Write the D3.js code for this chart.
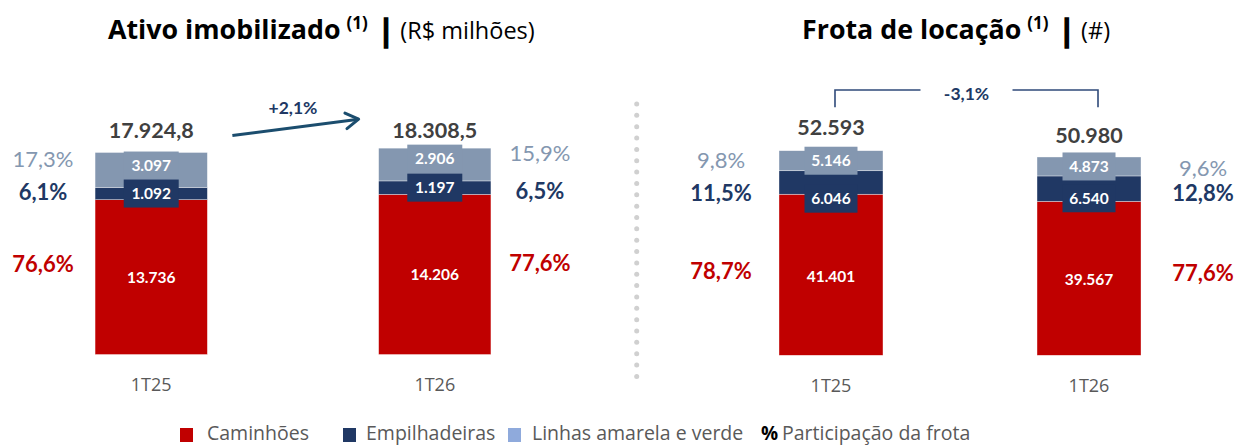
<!DOCTYPE html>
<html>
<head>
<meta charset="utf-8">
<script src="https://cdn.jsdelivr.net/npm/d3@7"></script>
<style>
  body { margin: 0; background: #fff; }
  svg { display: block; font-family: Lato, 'Open Sans', sans-serif; }
</style>
</head>
<body>
<div id="chart"></div>
<script>
const categories = ['1T25', '1T26']
const seriesNames = ['Caminhões', 'Empilhadeiras', 'Linhas amarela e verde']

// Ativo imobilizado (R$ milhões)
const assetTrucks = [13736, 14206]
const assetForklifts = [1092, 1197]
const assetLines = [3097, 2906]
const assetTotals = [17924.8, 18308.5]

// Frota de locação (#)
const fleetTrucks = [41401, 39567]
const fleetForklifts = [6046, 6540]
const fleetLines = [5146, 4873]
const fleetTotals = [52593, 50980]

const W = 1236
const H = 445

const colors = {
  series: ['#C00000', '#203864', '#8497B0'],
  pct: ['#C00000', '#203864', '#8497B0'],
  legendSwatch: ['#C00000', '#203864', '#8FAADC'],
  total: '#404040',
  axis: '#595959',
  legend: '#595959',
  arrow: '#1B4D6E',
  bracket: '#2F4A7A',
  dots: '#D0D0D0'
}

const br = d3.formatLocale({ decimal: ',', thousands: '.', grouping: [3], currency: ['R$', ''], minus: '-' })
const fmtInt = br.format(',d')
const fmtPct = br.format('.1f')
const fmtChange = br.format('+.1f')

const panels = [
  {
    title: 'Ativo imobilizado',
    unit: '(R$ milhões)',
    titleX: 108,
    values: [assetTrucks, assetForklifts, assetLines],
    totals: assetTotals,
    totalFormat: br.format(',.1f'),
    x: d3.scaleBand().domain(categories).range([10, 576]).paddingInner(0.604).paddingOuter(0.3),
    y: d3.scaleLinear().domain([0, 20000]).range([354.5, 129.1]),
    boxWidth: 55,
    innerDy: [[0, 0], [0, 0], [-4.4, -5.9]],
    pctX: [-52, 49],
    pctDy: [[-13, -11.5], [-1.9, 3.4], [-11, -11.8]],
    totalDy: [-21.8, -18.2],
    change: 'arrow'
  },
  {
    title: 'Frota de locação',
    unit: '(#)',
    titleX: 802,
    values: [fleetTrucks, fleetForklifts, fleetLines],
    totals: fleetTotals,
    totalFormat: fmtInt,
    x: d3.scaleBand().domain(categories).range([701.6, 1218.4]).paddingInner(0.597).paddingOuter(0.3),
    y: d3.scaleLinear().domain([0, 60000]).range([355.3, 121.9]),
    boxWidth: 53,
    innerDy: [[1.2, 0.7], [16.2, 9.6], [0, 0]],
    pctX: [-58, 62],
    pctDy: [[-3.8, -5.6], [10.8, 4.6], [-1, 1.5]],
    totalDy: [-23.4, -22],
    change: 'bracket'
  }
]

const svg = d3.select('#chart').append('svg').attr('width', W).attr('height', H)

const drawTitle = (p) => {
  const t = svg.append('text')
    .attr('x', p.titleX)
    .attr('y', 38.5)
    .style('fill', '#000')
    .style('font-family', "'Open Sans', sans-serif")
  t.append('tspan').text(p.title).style('font-size', '26.8px').style('font-weight', '700')
  t.append('tspan').text('(1)').attr('dx', 6).attr('dy', -10).style('font-size', '17px').style('font-weight', '700')
  t.append('tspan').text('|').attr('dx', 10).attr('dy', 12)
    .style('font-size', '30px').style('font-weight', '700')
    .style('stroke', '#000').style('stroke-width', '1.4px')
  t.append('tspan').text(p.unit).attr('dx', 6).attr('dy', -2).style('font-size', '23.5px').style('font-weight', '400')
}

const drawPanel = (p) => {
  const g = svg.append('g')
  const bw = p.x.bandwidth()
  const boxH = 28

  // stack segments bottom-up
  const stacks = categories.map((c, i) => {
    let acc = 0
    return p.values.map((arr, s) => {
      const seg = { cat: c, i, s, v: arr[i], y0: acc, y1: acc + arr[i] }
      acc += arr[i]
      return seg
    })
  })
  const segs = stacks.flat()

  g.selectAll('rect.seg')
    .data(segs)
    .enter()
    .append('rect')
    .attr('class', 'seg')
    .attr('x', (d) => p.x(d.cat))
    .attr('y', (d) => p.y(d.y1))
    .attr('width', bw)
    .attr('height', (d) => p.y(d.y0) - p.y(d.y1))
    .attr('fill', (d) => colors.series[d.s])
    .attr('stroke', '#fff')
    .attr('stroke-opacity', 0.6)
    .attr('stroke-width', 0.6)

  const labelY = (d) => p.y((d.y0 + d.y1) / 2) + p.innerDy[d.s][d.i]

  // value boxes, top series first so lower boxes overlap them
  const boxes = segs.slice().sort((a, b) => b.s - a.s)
  g.selectAll('rect.box')
    .data(boxes)
    .enter()
    .append('rect')
    .attr('class', 'box')
    .attr('x', (d) => p.x(d.cat) + bw / 2 - p.boxWidth / 2)
    .attr('y', (d) => labelY(d) - boxH / 2)
    .attr('width', p.boxWidth)
    .attr('height', boxH)
    .attr('fill', (d) => colors.series[d.s])

  g.selectAll('text.val')
    .data(segs)
    .enter()
    .append('text')
    .attr('class', 'val')
    .attr('x', (d) => p.x(d.cat) + bw / 2)
    .attr('y', labelY)
    .attr('dy', '0.36em')
    .attr('text-anchor', 'middle')
    .text((d) => fmtInt(d.v))
    .style('fill', '#fff')
    .style('font-size', '15.5px')
    .style('font-weight', '700')

  // participation percentages
  g.selectAll('text.pct')
    .data(segs)
    .enter()
    .append('text')
    .attr('class', 'pct')
    .attr('x', (d) => (d.i === 0 ? p.x(d.cat) + p.pctX[0] : p.x(d.cat) + bw + p.pctX[1]))
    .attr('y', (d) => p.y((d.y0 + d.y1) / 2) + p.pctDy[d.s][d.i])
    .attr('dy', '0.36em')
    .attr('text-anchor', 'middle')
    .text((d) => fmtPct((d.v / p.totals[d.i]) * 100) + '%')
    .style('fill', (d) => colors.pct[d.s])
    .style('font-size', '22px')
    .style('font-weight', (d) => (d.s === 2 ? '400' : '700'))

  // totals
  g.selectAll('text.total')
    .data(categories)
    .enter()
    .append('text')
    .attr('class', 'total')
    .attr('x', (c) => p.x(c) + bw / 2)
    .attr('y', (c, i) => p.y(p.totals[i]) + p.totalDy[i])
    .attr('dy', '0.36em')
    .attr('text-anchor', 'middle')
    .text((c, i) => p.totalFormat(p.totals[i]))
    .style('fill', colors.total)
    .style('font-size', '21.5px')
    .style('font-weight', '700')

  // category axis
  g.append('g')
    .attr('transform', `translate(0,${p.y(0)})`)
    .call(d3.axisBottom(p.x).tickSize(0).tickPadding(24))
    .call((a) => {
      a.select('.domain').remove()
      a.selectAll('.tick text')
        .style('fill', colors.axis)
        .style('font-family', "'Open Sans', sans-serif")
        .style('font-size', '18px')
    })

  const change = (p.totals[1] / p.totals[0] - 1) * 100
  const changeText = fmtChange(change) + '%'

  if (p.change === 'arrow') {
    const x1 = p.x(categories[0]) + bw + 25
    const y1 = p.y(p.totals[0]) - 17
    const x2 = p.x(categories[1]) - 20
    const y2 = p.y(p.totals[1]) - 29
    const ang = Math.atan2(y2 - y1, x2 - x1)
    const head = 15
    g.append('line')
      .attr('x1', x1).attr('y1', y1).attr('x2', x2).attr('y2', y2)
      .attr('stroke', colors.arrow).attr('stroke-width', 3)
    g.append('path')
      .attr('d', d3.line()([
        [x2 - head * Math.cos(ang - 0.55), y2 - head * Math.sin(ang - 0.55)],
        [x2, y2],
        [x2 - head * Math.cos(ang + 0.55), y2 - head * Math.sin(ang + 0.55)]
      ]))
      .attr('fill', 'none')
      .attr('stroke', colors.arrow)
      .attr('stroke-width', 3)
      .attr('stroke-linecap', 'round')
      .attr('stroke-linejoin', 'round')
    g.append('text')
      .attr('x', (x1 + x2) / 2 - 2.5)
      .attr('y', (y1 + y2) / 2 - 20)
      .attr('dy', '0.36em')
      .attr('text-anchor', 'middle')
      .text(changeText)
      .style('fill', colors.series[1])
      .style('font-size', '17.5px')
      .style('font-weight', '700')
  } else {
    const xa = p.x(categories[0]) + bw / 2 + 4
    const xb = p.x(categories[1]) + bw / 2 + 9
    const top = p.y(d3.max(p.totals)) - 60.7
    const bottom = top + 17.3
    const mid = (xa + xb) / 2
    const gap = 46
    g.append('path')
      .attr('d', d3.line()([[xa, bottom], [xa, top], [mid - gap, top]]))
      .attr('fill', 'none').attr('stroke', colors.bracket).attr('stroke-width', 1.6)
    g.append('path')
      .attr('d', d3.line()([[mid + gap, top], [xb, top], [xb, bottom]]))
      .attr('fill', 'none').attr('stroke', colors.bracket).attr('stroke-width', 1.6)
    g.append('text')
      .attr('x', mid)
      .attr('y', top + 3.3)
      .attr('dy', '0.36em')
      .attr('text-anchor', 'middle')
      .text(changeText)
      .style('fill', colors.series[1])
      .style('font-size', '17.5px')
      .style('font-weight', '700')
  }

  drawTitle(p)
}

panels.forEach(drawPanel)

// dotted divider between the two panels
svg.append('g')
  .selectAll('circle')
  .data(d3.range(104, 378, 11.35))
  .enter()
  .append('circle')
  .attr('cx', 636.7)
  .attr('cy', (d) => d)
  .attr('r', 2.5)
  .attr('fill', colors.dots)

// legend
const legendItems = [
  { label: seriesNames[0], color: colors.legendSwatch[0], x: 180, tx: 207 },
  { label: seriesNames[1], color: colors.legendSwatch[1], x: 343, tx: 366 },
  { label: seriesNames[2], color: colors.legendSwatch[2], x: 508, tx: 532 }
]
const legend = svg.append('g').attr('class', 'legend').style('font-family', "'Open Sans', sans-serif")
legendItems.forEach((d) => {
  legend.append('rect')
    .attr('x', d.x).attr('y', 428).attr('width', 13).attr('height', 14)
    .attr('fill', d.color)
  legend.append('text')
    .attr('x', d.tx).attr('y', 439.5)
    .text(d.label)
    .style('fill', colors.legend)
    .style('font-size', '19.5px')
})
legend.append('text')
  .attr('x', 761).attr('y', 439.5)
  .text('%')
  .style('fill', '#000')
  .style('font-size', '19px')
  .style('font-weight', '700')
legend.append('text')
  .attr('x', 782).attr('y', 439.5)
  .text('Participação da frota')
  .style('fill', colors.legend)
  .style('font-size', '19.5px')
</script>
</body>
</html>
